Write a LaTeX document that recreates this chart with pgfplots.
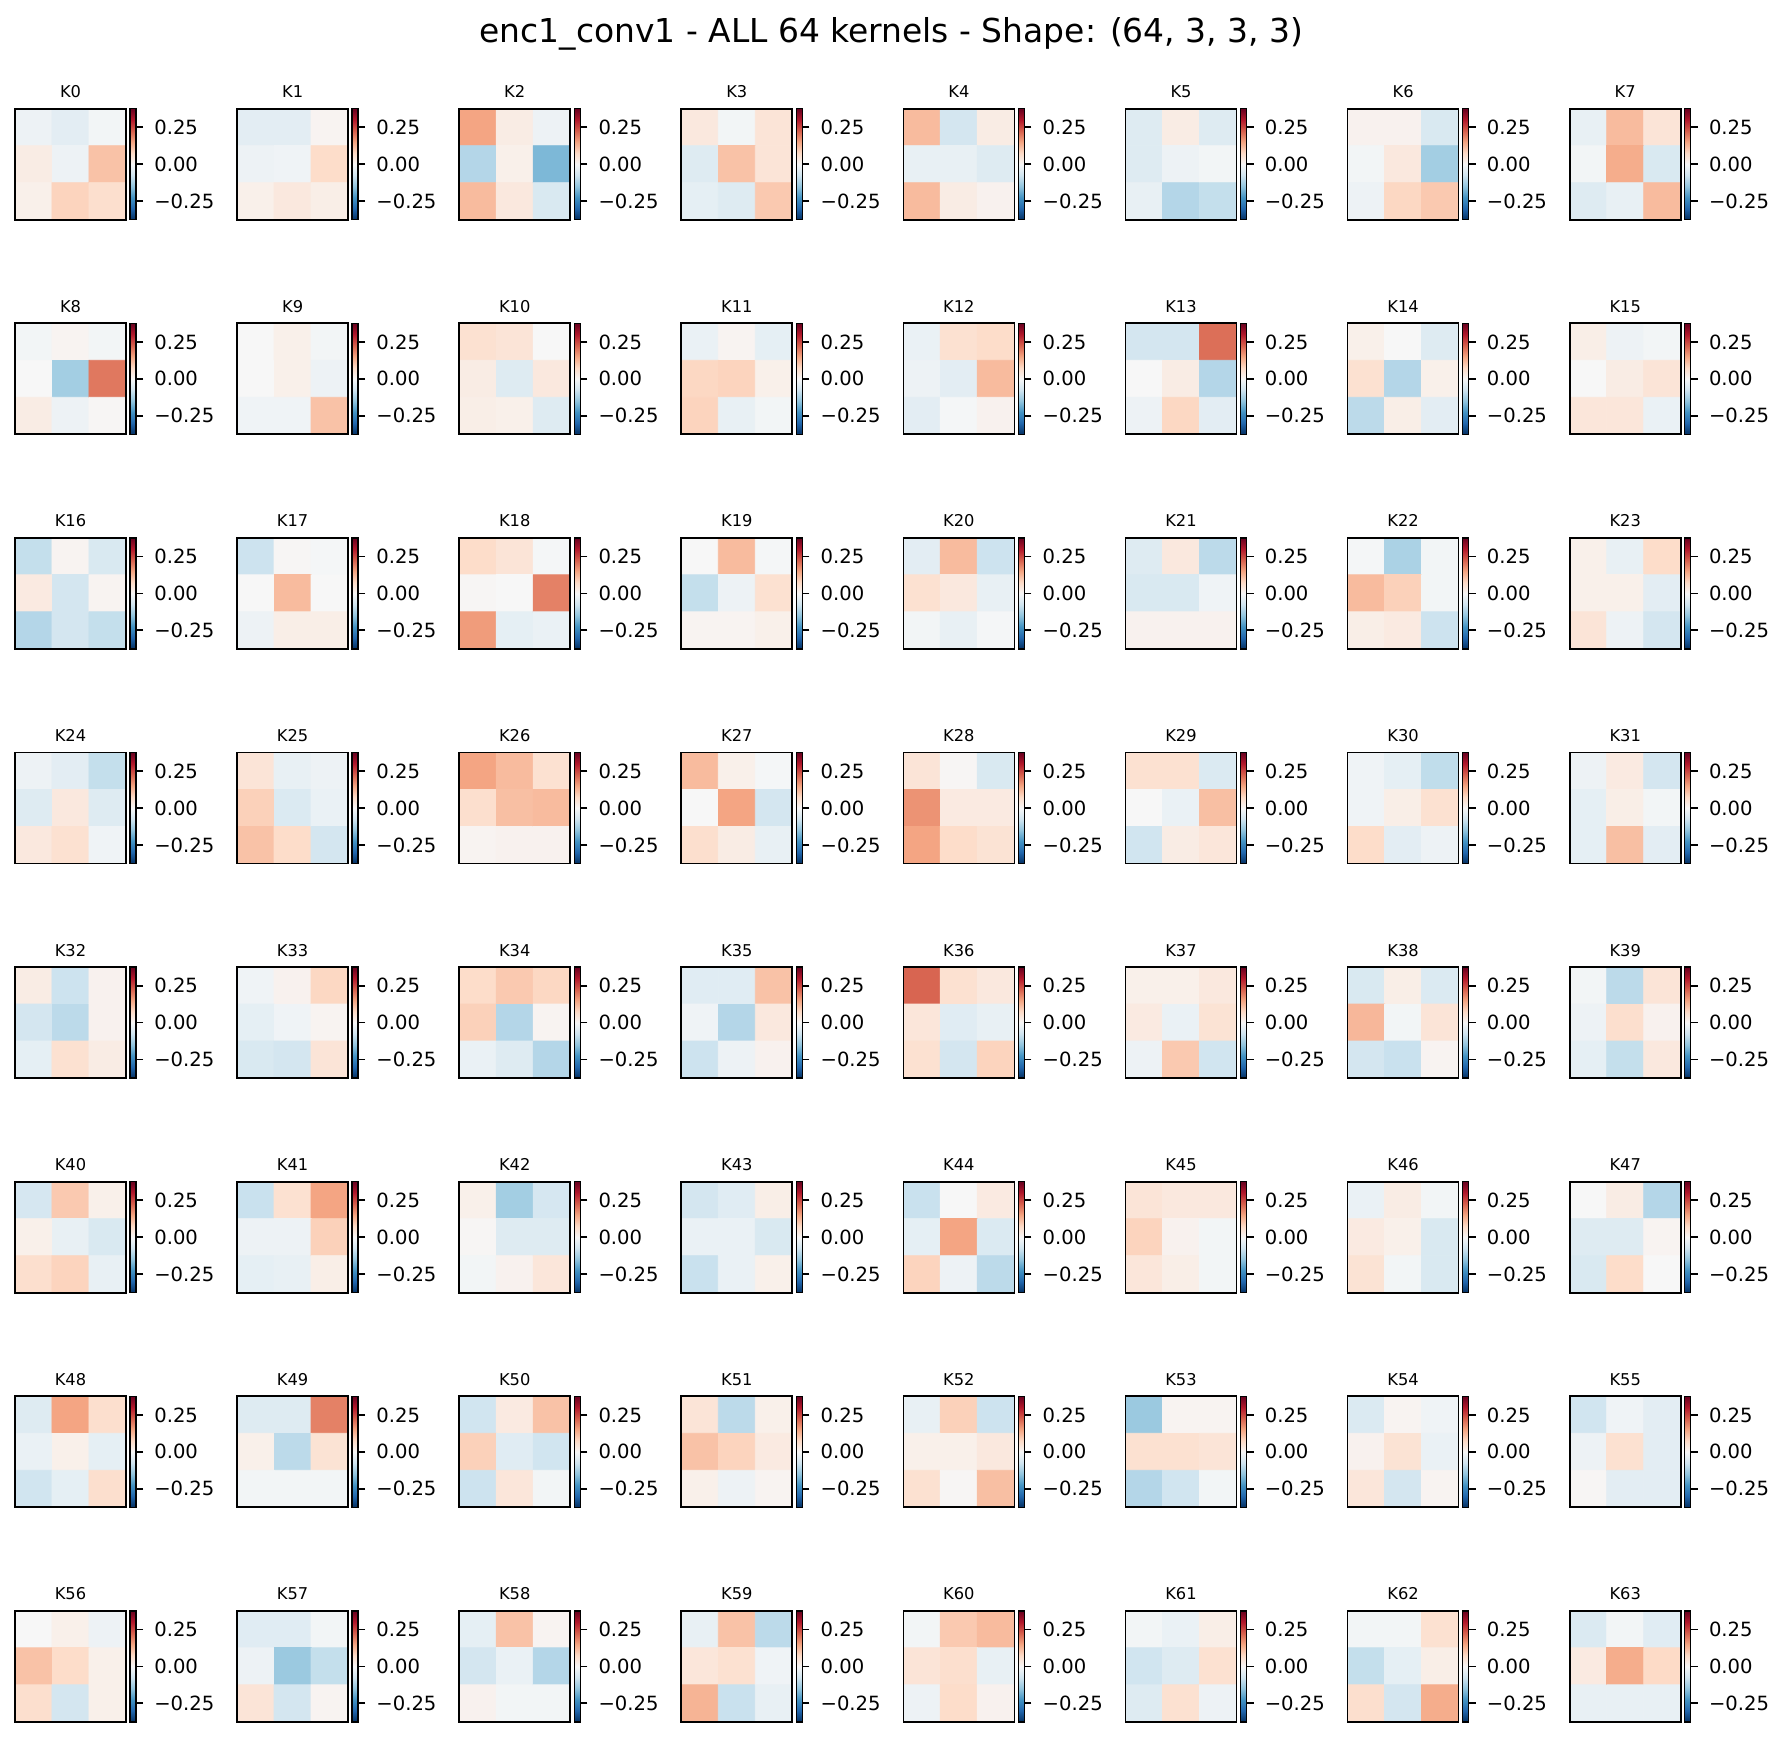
\documentclass[border=0pt]{standalone}
\usepackage{pgfplots}
\pgfplotsset{compat=1.18}
\usepackage{fontspec}
\setmainfont{DejaVu Sans}
\pgfplotsset{
  colormap={rdbur}{rgb255=(5,48,97) rgb255=(33,102,172) rgb255=(67,147,195) rgb255=(146,197,222) rgb255=(209,229,240) rgb255=(247,247,247) rgb255=(253,219,199) rgb255=(244,165,130) rgb255=(214,96,77) rgb255=(178,24,43) rgb255=(103,0,31)},
  kern/.style={
    anchor=north west, width=53.28pt, height=53.28pt, scale only axis,
    xmin=-0.5, xmax=2.5, ymin=-0.5, ymax=2.5, y dir=reverse,
    xtick=\empty, ytick=\empty, axis on top,
    axis line style={line width=0.8pt},
    colormap name=rdbur, point meta min=-0.376, point meta max=0.376,
    every axis title/.style={at={(0.5,1)}, anchor=base, yshift=5.3pt, inner sep=0pt, font=\fontsize{7.8}{8}\selectfont},
    colorbar,
    colorbar shift/.style={xshift=1.92pt},
    colorbar style={
      at={(parent axis.north east)}, anchor=north west,
      width=2.88pt,
      ytick={-0.25,0,0.25}, yticklabels={−0.25,0.00,0.25},
      ytick pos=right, yticklabel pos=right,
      tick align=outside, major tick length=3.4pt,
      every tick/.style={line width=0.8pt, black},
      yticklabel style={font=\fontsize{9.4}{10}\selectfont, inner sep=0pt, anchor=west, xshift=5.2pt},
      axis line style={line width=0.6pt},
    },
  },
}
\newcommand\K[2]{%
  \pgfmathtruncatemacro\cc{mod(#1,8)}%
  \pgfmathtruncatemacro\rr{floor(#1/8)}%
  \pgfmathsetmacro\xx{(15+222.1*\cc)*0.48}%
  \pgfmathsetmacro\yy{-(108.7+214.6*\rr)*0.48}%
  \begin{axis}[kern, at={(\xx pt,\yy pt)}, title={K#1}]
    \addplot[matrix plot*, mesh/cols=3, point meta=explicit]
      table[header=false, row sep=\\, x expr={mod(\coordindex,3)}, y expr={floor(\coordindex/3)}, meta index=0] {#2\\};
  \end{axis}}
\begin{document}
\begin{tikzpicture}
\useasboundingbox (0,0) rectangle (856.8pt,-833.76pt);
\node[anchor=base, inner sep=0pt, font=\fontsize{15.8}{18}\selectfont] at (427.9pt,-20.2pt) {enc1\_conv1 - ALL 64 kernels - Shape: (64, 3, 3, 3)};
\K{0}{-0.02\\-0.04\\-0.01\\0.03\\-0.02\\0.11\\0.02\\0.085\\0.065}
\K{1}{-0.04\\-0.04\\0.01\\-0.02\\-0.015\\0.07\\0.02\\0.04\\0.025}
\K{2}{0.15\\0.03\\-0.02\\-0.11\\0.02\\-0.17\\0.12\\0.04\\-0.06}
\K{3}{0.04\\-0.01\\0.05\\-0.05\\0.11\\0.05\\-0.035\\-0.05\\0.1}
\K{4}{0.12\\-0.07\\0.03\\-0.03\\-0.03\\-0.05\\0.12\\0.03\\0.015}
\K{5}{-0.05\\0.03\\-0.05\\-0.05\\-0.02\\-0.01\\-0.03\\-0.11\\-0.09}
\K{6}{0.015\\0.015\\-0.06\\-0.01\\0.04\\-0.13\\-0.02\\0.08\\0.1}
\K{7}{-0.03\\0.12\\0.05\\-0.01\\0.14\\-0.06\\-0.05\\-0.03\\0.12}
\K{8}{-0.01\\0.01\\-0.01\\0.0\\-0.13\\0.2\\0.03\\-0.02\\0.005}
\K{9}{0.0\\0.02\\-0.01\\0.0\\0.02\\-0.02\\-0.015\\-0.015\\0.11}
\K{10}{0.06\\0.05\\0.0\\0.03\\-0.05\\0.04\\0.025\\0.02\\-0.05}
\K{11}{-0.025\\0.01\\-0.035\\0.08\\0.085\\0.02\\0.085\\-0.03\\-0.01}
\K{12}{-0.025\\0.06\\0.07\\-0.02\\-0.04\\0.12\\-0.04\\-0.005\\0.015}
\K{13}{-0.07\\-0.07\\0.21\\0.0\\0.03\\-0.11\\-0.02\\0.08\\-0.04}
\K{14}{0.02\\0.0\\-0.05\\0.06\\-0.11\\0.02\\-0.1\\0.025\\-0.04}
\K{15}{0.025\\-0.02\\-0.01\\0.0\\0.03\\0.05\\0.045\\0.045\\-0.025}
\K{16}{-0.09\\0.01\\-0.06\\0.035\\-0.07\\0.01\\-0.11\\-0.07\\-0.09}
\K{17}{-0.08\\0.005\\-0.005\\0.0\\0.12\\0.0\\-0.02\\0.025\\0.025}
\K{18}{0.07\\0.05\\-0.005\\0.005\\0.0\\0.19\\0.16\\-0.035\\-0.025}
\K{19}{0.0\\0.12\\-0.005\\-0.09\\-0.02\\0.06\\0.01\\0.01\\0.02}
\K{20}{-0.04\\0.12\\-0.08\\0.06\\0.04\\-0.03\\-0.01\\-0.03\\-0.005}
\K{21}{-0.05\\0.04\\-0.1\\-0.06\\-0.06\\-0.015\\0.015\\0.015\\0.015}
\K{22}{-0.005\\-0.12\\-0.01\\0.12\\0.09\\-0.01\\0.025\\0.035\\-0.08}
\K{23}{0.02\\-0.03\\0.07\\0.02\\0.02\\-0.04\\0.05\\-0.02\\-0.07}
\K{24}{-0.02\\-0.04\\-0.09\\-0.05\\0.04\\-0.05\\0.04\\0.06\\-0.015}
\K{25}{0.05\\-0.03\\-0.02\\0.09\\-0.055\\-0.025\\0.11\\0.07\\-0.07}
\K{26}{0.15\\0.12\\0.06\\0.065\\0.115\\0.12\\0.01\\0.015\\0.015}
\K{27}{0.12\\0.02\\-0.005\\0.0\\0.15\\-0.07\\0.065\\0.03\\-0.03}
\K{28}{0.05\\0.005\\-0.06\\0.17\\0.035\\0.035\\0.15\\0.07\\0.055}
\K{29}{0.06\\0.06\\-0.055\\0.0\\-0.025\\0.115\\-0.075\\0.03\\0.045}
\K{30}{-0.015\\-0.035\\-0.095\\-0.015\\0.025\\0.06\\0.07\\-0.04\\-0.02}
\K{31}{-0.02\\0.035\\-0.07\\-0.035\\0.025\\-0.01\\-0.035\\0.115\\-0.04}
\K{32}{0.03\\-0.08\\0.015\\-0.07\\-0.1\\0.015\\-0.035\\0.06\\0.03}
\K{33}{-0.015\\0.015\\0.08\\-0.035\\-0.015\\0.01\\-0.06\\-0.07\\0.05}
\K{34}{0.07\\0.1\\0.08\\0.09\\-0.11\\0.01\\-0.025\\-0.05\\-0.11}
\K{35}{-0.045\\-0.045\\0.11\\-0.015\\-0.11\\0.04\\-0.08\\-0.02\\0.015}
\K{36}{0.22\\0.06\\0.04\\0.045\\-0.045\\-0.03\\0.06\\-0.07\\0.085}
\K{37}{0.02\\0.02\\0.04\\0.035\\-0.025\\0.055\\-0.02\\0.1\\-0.075}
\K{38}{-0.06\\0.025\\-0.055\\0.125\\-0.01\\0.05\\-0.07\\-0.085\\0.01}
\K{39}{-0.01\\-0.1\\0.05\\-0.02\\0.065\\0.015\\-0.035\\-0.09\\0.04}
\K{40}{-0.065\\0.1\\0.02\\0.02\\-0.03\\-0.06\\0.065\\0.085\\-0.03}
\K{41}{-0.085\\0.06\\0.15\\-0.02\\-0.02\\0.09\\-0.035\\-0.03\\0.025}
\K{42}{0.02\\-0.13\\-0.065\\0.005\\-0.05\\-0.05\\-0.01\\0.015\\0.045}
\K{43}{-0.07\\-0.045\\0.025\\-0.025\\-0.025\\-0.06\\-0.085\\-0.025\\0.02}
\K{44}{-0.085\\0.0\\0.035\\-0.035\\0.15\\-0.055\\0.085\\-0.02\\-0.1}
\K{45}{0.05\\0.04\\0.04\\0.085\\0.015\\-0.01\\0.045\\0.025\\-0.01}
\K{46}{-0.025\\0.03\\-0.01\\0.035\\0.02\\-0.06\\0.055\\-0.01\\-0.06}
\K{47}{0.0\\0.03\\-0.11\\-0.05\\-0.05\\0.01\\-0.06\\0.07\\0.0}
\K{48}{-0.05\\0.15\\0.065\\-0.025\\0.02\\-0.035\\-0.075\\-0.035\\0.065}
\K{49}{-0.05\\-0.05\\0.19\\0.02\\-0.1\\0.055\\-0.01\\-0.01\\-0.01}
\K{50}{-0.075\\0.035\\0.11\\0.09\\-0.045\\-0.075\\-0.08\\0.045\\-0.01}
\K{51}{0.05\\-0.1\\0.02\\0.11\\0.085\\0.035\\0.02\\-0.02\\0.01}
\K{52}{-0.03\\0.09\\-0.08\\0.02\\0.02\\0.04\\0.06\\0.005\\0.115}
\K{53}{-0.14\\0.01\\0.01\\0.06\\0.06\\0.05\\-0.11\\-0.075\\-0.01}
\K{54}{-0.055\\0.01\\-0.015\\0.015\\0.055\\-0.025\\0.045\\-0.07\\0.01}
\K{55}{-0.075\\-0.015\\-0.04\\-0.02\\0.06\\-0.04\\0.005\\-0.04\\-0.04}
\K{56}{0.0\\0.02\\-0.02\\0.11\\0.07\\0.02\\0.065\\-0.07\\0.02}
\K{57}{-0.045\\-0.045\\-0.01\\-0.02\\-0.14\\-0.09\\0.05\\-0.07\\0.01}
\K{58}{-0.035\\0.11\\0.01\\-0.07\\-0.025\\-0.11\\0.015\\-0.01\\-0.01}
\K{59}{-0.03\\0.11\\-0.1\\0.045\\0.06\\-0.015\\0.13\\-0.085\\-0.03}
\K{60}{-0.01\\0.1\\0.12\\0.05\\0.065\\-0.03\\-0.02\\0.07\\0.015}
\K{61}{-0.01\\-0.025\\0.025\\-0.075\\-0.05\\0.06\\-0.05\\0.06\\-0.02}
\K{62}{-0.01\\-0.01\\0.06\\-0.09\\-0.035\\0.025\\0.065\\-0.07\\0.14}
\K{63}{-0.055\\-0.01\\-0.045\\0.035\\0.14\\0.075\\-0.03\\-0.03\\-0.03}
\end{tikzpicture}
\end{document}
